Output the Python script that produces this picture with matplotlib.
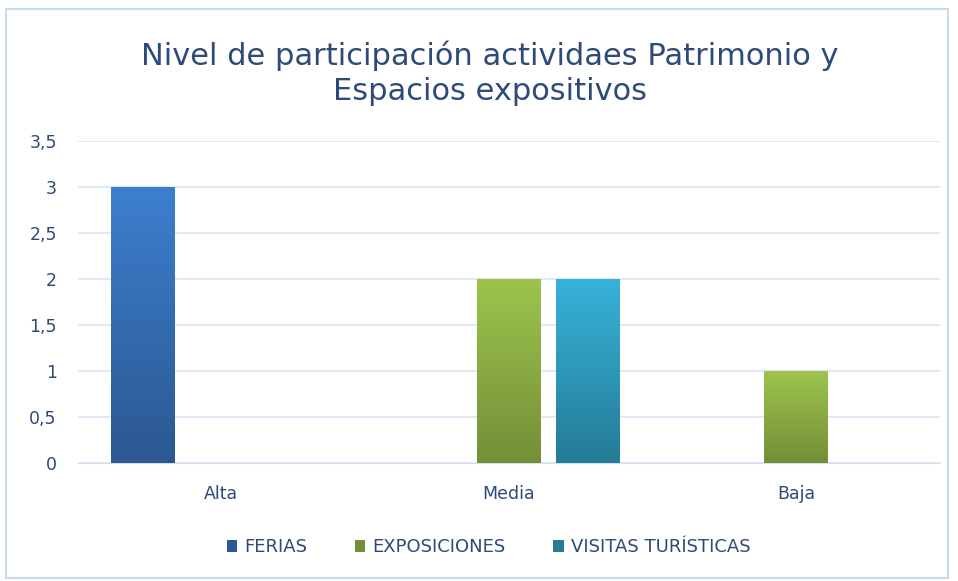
import numpy as np
import matplotlib.pyplot as plt
from matplotlib.patches import Rectangle, Patch
from matplotlib.colors import LinearSegmentedColormap

categorias = ["Alta", "Media", "Baja"]
series = ["FERIAS", "EXPOSICIONES", "VISITAS TURÍSTICAS"]
ferias = [3, 0, 0]
exposiciones = [0, 2, 1]
visitas = [0, 2, 0]
yticks = [0, 0.5, 1, 1.5, 2, 2.5, 3, 3.5]

# (color arriba, color abajo)
colores = [("#3D7FCF", "#2B5891"), ("#9DC44D", "#748F37"), ("#37B2D9", "#247C96")]
texto = "#2E4A78"

fig = plt.figure(figsize=(9.58, 5.81), dpi=100)
fig.patches.append(Rectangle((0.006, 0.006), 0.984, 0.978, transform=fig.transFigure,
                             fill=False, edgecolor="#C9DAEE", linewidth=1.5))
ax = fig.add_axes([0.081, 0.203, 0.900, 0.554])

x = np.arange(len(categorias))
ancho = 0.222
paso = 0.274
for i, (nombre, valores) in enumerate(zip(series, [ferias, exposiciones, visitas])):
    top, bot = colores[i]
    cmap = LinearSegmentedColormap.from_list(nombre, [bot, top])
    barras = ax.bar(x + (i - 1) * paso, valores, ancho, color=top, label=nombre, zorder=3)
    for b in barras:
        h = b.get_height()
        if h <= 0:
            continue
        b.set_facecolor("none")
        b.set_edgecolor("none")
        bx, bw = b.get_x(), b.get_width()
        grad = np.linspace(0, 1, 256).reshape(-1, 1)
        im = ax.imshow(grad, extent=[bx, bx + bw, 0, h], origin="lower", cmap=cmap,
                       aspect="auto", zorder=3)
        im.set_clip_path(b)

ax.set_xlim(-0.5, 2.5)
ax.set_ylim(0, 3.5)
ax.set_xticks(x)
ax.set_xticklabels(categorias)
ax.set_yticks(yticks)
ax.set_yticklabels([("%g" % v).replace(".", ",") for v in yticks])
ax.grid(axis="y", color="#D9E4F2", linewidth=1.2, zorder=0)
for s in ["top", "right", "left"]:
    ax.spines[s].set_visible(False)
ax.spines["bottom"].set_color("#D3DFEF")
ax.tick_params(length=0, labelsize=12.5, colors=texto)
ax.tick_params(axis="x", pad=16)
ax.tick_params(axis="y", pad=15)

fig.text(0.511, 0.874, "Nivel de participación actividaes Patrimonio y\nEspacios expositivos",
         ha="center", va="center", fontsize=22, color=texto, linespacing=1.3)

# cuadros de leyenda sin degradado
handles = [Patch(facecolor=c[1]) for c in colores]
fig.legend(handles, series, loc="center", bbox_to_anchor=(0.51, 0.058), ncol=3, frameon=False,
           fontsize=13, labelcolor=texto, handlelength=0.6, handleheight=0.6,
           handletextpad=0.4, columnspacing=2.6)

fig.savefig("out.png", dpi=100)
